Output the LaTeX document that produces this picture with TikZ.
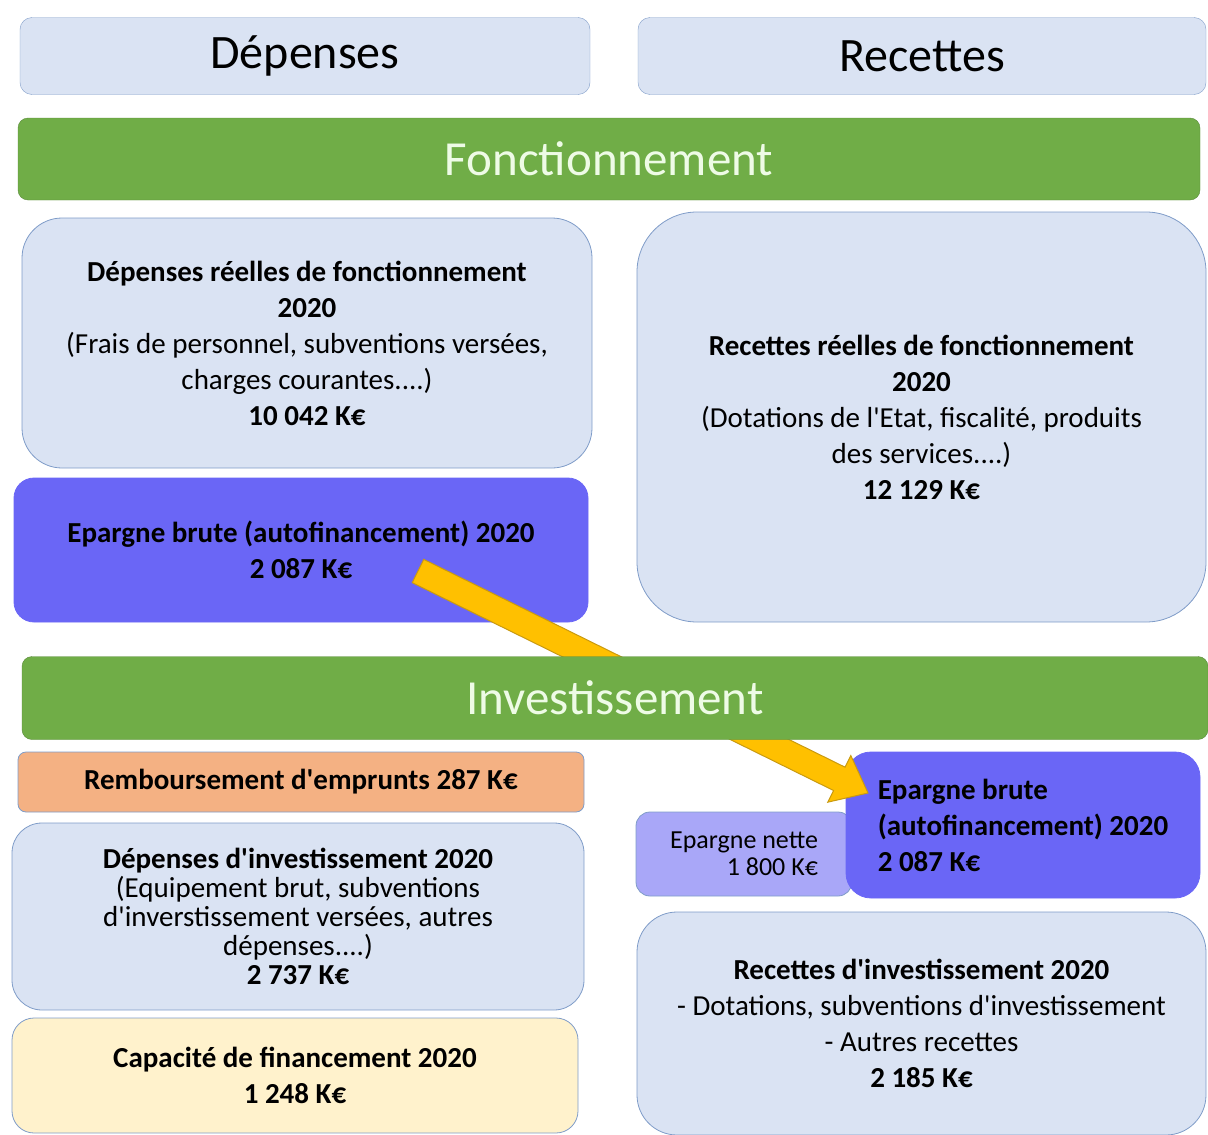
\documentclass[tikz,border=0pt]{standalone}
\usepackage{fontspec}
\setmainfont{Carlito}[Ligatures=TeXOff]
\usetikzlibrary{calc,positioning}
\definecolor{boxblue}{HTML}{DAE3F3}
\definecolor{boxline}{HTML}{7F9CC8}
\definecolor{barfill}{HTML}{70AD47}
\definecolor{barline}{HTML}{5A8A3A}
\definecolor{bartext}{HTML}{EEFBE6}
\definecolor{brute}{HTML}{6A66F6}
\definecolor{nette}{HTML}{A9A7F8}
\definecolor{rembfill}{HTML}{F4B183}
\definecolor{capfill}{HTML}{FFF2CC}
\definecolor{arrfill}{HTML}{FFC000}
\definecolor{arrline}{HTML}{C99A10}

\begin{document}
\begin{tikzpicture}[x=1pt,y=-1pt,
  hdr/.style={draw=boxline,fill=boxblue,rounded corners=12pt,minimum width=570pt,minimum height=77pt,font=\fontsize{48}{54}\selectfont},
  bar/.style={draw=barline,fill=barfill,rounded corners=10pt,minimum height=82pt,text=bartext,font=\fontsize{49}{54}\selectfont},
  blk/.style={draw=boxline,line width=0.8pt,align=center,inner sep=0pt},
  body/.style={font=\fontsize{29}{36}\selectfont}]
\useasboundingbox (0,0) rectangle (1208,1135);
%headers
\node[hdr] (dep) at (305,56) {Dépenses};
\node[hdr,minimum width=568pt] (rec) at (922,56) {Recettes};
\node[bar,minimum width=1182pt] (fonc) at (609,159) {Fonctionnement};
%fonctionnement
\node[blk,body,fill=boxblue,rounded corners=40pt,minimum width=570pt,minimum height=250pt] (drf) at (307,343)
  {\textbf{Dépenses réelles de fonctionnement}\\\textbf{2020}\\(Frais de personnel, subventions versées,\\charges courantes....)\\\textbf{10 042 K€}};
\node[blk,body,fill=boxblue,rounded corners=60pt,minimum width=569pt,minimum height=410pt] (rrf) at (921.5,417)
  {\textbf{Recettes réelles de fonctionnement}\\\textbf{2020}\\(Dotations de l'Etat, fiscalité, produits\\des services....)\\\textbf{12 129 K€}};
\node[blk,body,draw=brute,fill=brute,rounded corners=20pt,minimum width=574pt,minimum height=144pt] (ebf) at (301,550)
  {\textbf{Epargne brute (autofinancement) 2020}\\\textbf{2 087 K€}};
%investissement
\node[blk,body,fill=rembfill,rounded corners=8pt,minimum width=566pt,minimum height=60pt] (remb) at (301,782)
  {\textbf{Remboursement d'emprunts 287 K€}};
\node[blk,fill=boxblue,rounded corners=30pt,minimum width=572pt,minimum height=187pt,font=\fontsize{29}{29}\selectfont] (dinv) at (298,916.5)
  {\textbf{Dépenses d'investissement 2020}\\(Equipement brut, subventions\\d'inverstissement versées, autres\\dépenses....)\\\textbf{2 737 K€}};
\node[blk,body,fill=capfill,rounded corners=22pt,minimum width=566pt,minimum height=115pt] (cap) at (295,1075.5)
  {\textbf{Capacité de financement 2020}\\\textbf{1 248 K€}};
\node[blk,fill=nette,rounded corners=14pt,minimum width=216pt,minimum height=84pt,align=right,font=\fontsize{26}{27}\selectfont] (nette) at (744,854)
  {Epargne nette\\1 800 K€};
\node[blk,body,draw=brute,fill=brute,rounded corners=25pt,minimum width=354pt,minimum height=146pt,align=left] (ebi) at (1023,825)
  {\textbf{Epargne brute}\\\textbf{(autofinancement) 2020}\\\textbf{2 087 K€}};
\node[blk,body,fill=boxblue,rounded corners=40pt,minimum width=569pt,minimum height=223pt] (rinv) at (921.5,1023.5)
  {\textbf{Recettes d'investissement 2020}\\- Dotations, subventions d'investissement\\- Autres recettes\\\textbf{2 185 K€}};
%arrow
\coordinate (arrS) at (418,571);
\coordinate (arrE) at (868,793);
\coordinate (arrH) at ($(arrE)!32pt!(arrS)$);
\draw[draw=arrline,fill=arrfill,line width=1pt,line join=miter]
  ($(arrS)!13pt!90:(arrE)$) -- ($(arrH)!13pt!-90:(arrS)$) -- ($(arrH)!26pt!-90:(arrS)$) -- (arrE)
  -- ($(arrH)!26pt!90:(arrS)$) -- ($(arrH)!13pt!90:(arrS)$) -- ($(arrS)!13pt!-90:(arrE)$) -- cycle;
\node[bar,minimum width=1186pt,minimum height=83pt] (inv) at (615,698) {Investissement};
\end{tikzpicture}
\end{document}
